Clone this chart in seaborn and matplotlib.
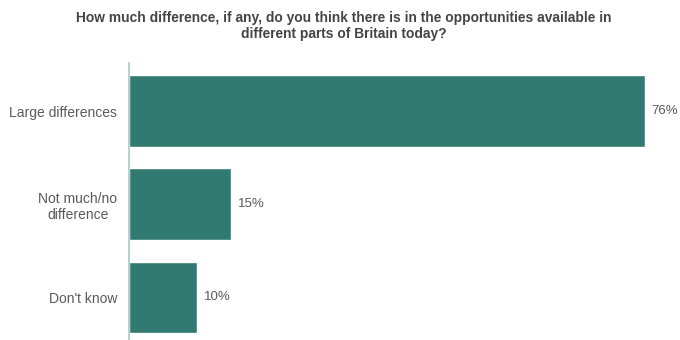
import matplotlib
matplotlib.use("Agg")
import matplotlib.pyplot as plt
import seaborn as sns
import pandas as pd

categories = ["Large differences", "Not much/no\ndifference", "Don't know"]
values = [76, 15, 10]
value_labels = ["76%", "15%", "10%"]
title = ("How much difference, if any, do you think there is in the opportunities available in\n"
         "different parts of Britain today?")

sns.set_style("white")
plt.rcParams['font.family'] = ['Liberation Sans', 'DejaVu Sans']

df = pd.DataFrame({"category": categories, "value": values})

fig = plt.figure(figsize=(6.8, 3.4), dpi=100)
ax = fig.add_axes([129/680, 0.0, 542/680, 1 - 63/340])
sns.barplot(data=df, x="value", y="category", orient="h", color="#317A72",
            saturation=1, width=0.77, ax=ax)
ax.set_xlim(0, 79.9)
ax.set_ylim(2.457, -0.516)
for sp in ["top", "right", "bottom"]:
    ax.spines[sp].set_visible(False)
ax.spines["left"].set_color("#A9C9C5")
ax.spines["left"].set_linewidth(1.2)
ax.set_xticks([])
ax.set_xlabel("")
ax.set_ylabel("")
ax.tick_params(axis="y", length=0, pad=8.5, labelsize=10, labelcolor="#5A5A5A")
for lab in ax.get_yticklabels():
    lab.set_horizontalalignment("right")
    lab.set_multialignment("center")
for i, (v, t) in enumerate(zip(values, value_labels)):
    ax.annotate(t, xy=(v, i), xytext=(5, 0), textcoords="offset points",
                ha="left", va="center", fontsize=9.5, color="#5A5A5A")
fig.text(0.505, 1 - 26/340, title, ha="center", va="center", fontsize=9.9,
         fontweight="bold", color="#444444", linespacing=1.2)
fig.savefig("out.png", dpi=100)
